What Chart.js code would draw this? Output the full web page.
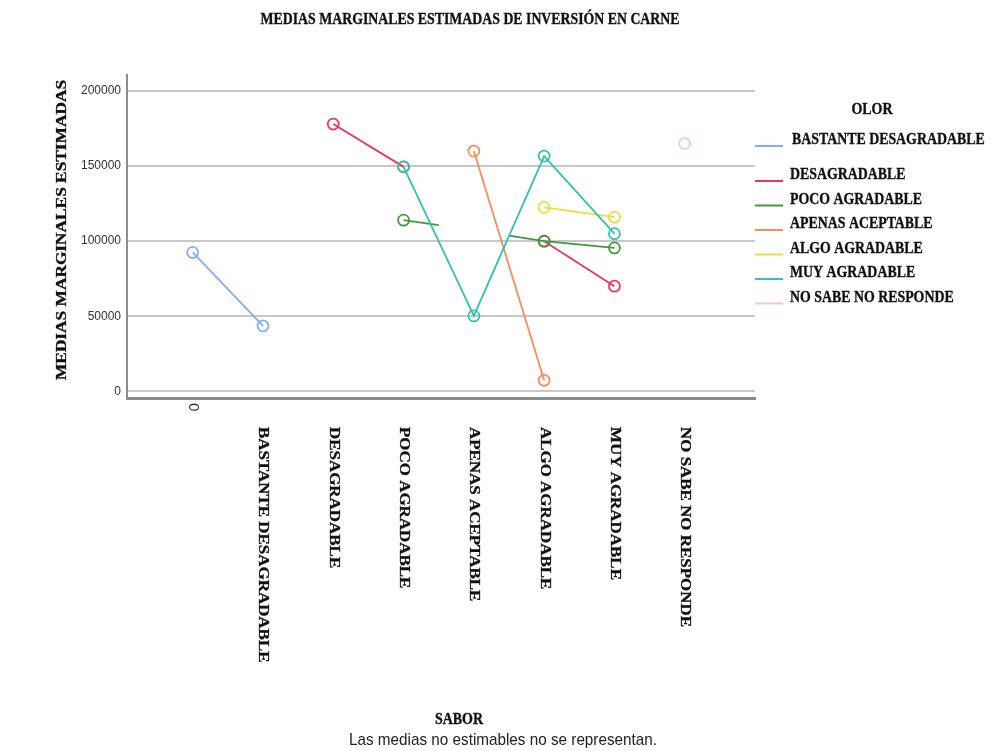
<!DOCTYPE html>
<html>
<head>
<meta charset="utf-8">
<script src="https://cdn.jsdelivr.net/npm/chart.js@4/dist/chart.umd.min.js"></script>
<style>
  html, body { margin: 0; padding: 0; background: #ffffff; }
  canvas { display: block; }
</style>
</head>
<body>
<canvas id="c" width="990" height="751"></canvas>
<script>
// ---- data ----
const categories = ['0', 'BASTANTE DESAGRADABLE', 'DESAGRADABLE', 'POCO AGRADABLE', 'APENAS ACEPTABLE', 'ALGO AGRADABLE', 'MUY AGRADABLE', 'NO SABE NO RESPONDE'];
const seriesNames = ['BASTANTE DESAGRADABLE', 'DESAGRADABLE', 'POCO AGRADABLE', 'APENAS ACEPTABLE', 'ALGO AGRADABLE', 'MUY AGRADABLE', 'NO SABE NO RESPONDE'];
const bastanteDesagradable = [92500, 43500, null, null, null, null, null, null];
const desagradable         = [null, null, 178000, 149500, null, 100000, 70000, null];
const pocoAgradable        = [null, null, null, 114000, 107500, 100000, 95500, null];
const apenasAceptable      = [null, null, null, null, 160000, 7300, null, null];
const algoAgradable        = [null, null, null, null, null, 122500, 116000, null];
const muyAgradable         = [null, null, null, 149500, 50200, 156700, 105000, null];
const noSabeNoResponde     = [null, null, null, null, null, null, null, 165000];
const pocoAgradableHidden  = [4];   // mean whose marker and neighbouring half-segments are not shown
const yTicks = [0, 50000, 100000, 150000, 200000];

const chartTitle = 'MEDIAS MARGINALES ESTIMADAS DE INVERSIÓN EN CARNE';
const yTitle = 'MEDIAS MARGINALES ESTIMADAS';
const xTitle = 'SABOR';
const legendTitle = 'OLOR';
const footnote = 'Las medias no estimables no se representan.';

// ---- styling ----
const colors = ['#82adee', '#e8375c', '#43983f', '#fa8b5b', '#e6df3c', '#2ec2b2', '#f8c3d9'];
const serif = '"Liberation Serif", "Times New Roman", serif';
const sans = '"Liberation Sans", Arial, sans-serif';

const allSeries = [bastanteDesagradable, desagradable, pocoAgradable, apenasAceptable, algoAgradable, muyAgradable, noSabeNoResponde];
const hiddenBySeries = {2: pocoAgradableHidden};

function dashFor(ctx, hidden) {
  const i0 = ctx.p0DataIndex, i1 = ctx.p1DataIndex;
  const half = Math.hypot(ctx.p1.x - ctx.p0.x, ctx.p1.y - ctx.p0.y) / 2;
  if (hidden.includes(i1)) return [half, 10000];
  if (hidden.includes(i0)) return [0, half, half, 10000];
  return undefined;
}

const datasets = allSeries.map((vals, s) => {
  const hidden = hiddenBySeries[s] || [];
  return {
    label: seriesNames[s],
    data: vals.map((v, i) => ({x: i, y: v})),
    borderColor: colors[s],
    borderWidth: 1.8,
    pointStyle: 'circle',
    pointRadius: (c) => hidden.includes(c.dataIndex) ? 0 : 5.5,
    pointBorderWidth: 1.7,
    pointBorderColor: colors[s],
    pointBackgroundColor: 'rgba(255,255,255,0)',
    spanGaps: false,
    fill: false,
    tension: 0,
    order: allSeries.length - s,
    segment: hidden.length ? { borderDash: (c) => dashFor(c, hidden) } : undefined
  };
});

function txt(ctx, s, x, y, o) {
  ctx.save();
  ctx.font = o.font;
  ctx.fillStyle = o.color || '#111';
  ctx.textAlign = o.align || 'left';
  ctx.textBaseline = 'middle';
  ctx.translate(x, y);
  if (o.rot) ctx.rotate(o.rot);
  let sx = o.sx || 1;
  if (o.width) sx = o.width / ctx.measureText(s).width;
  ctx.scale(sx, o.sy || 1);
  ctx.fillText(s, 0, 0);
  if (o.stroke) { ctx.lineWidth = o.stroke; ctx.strokeStyle = o.color || '#111'; ctx.strokeText(s, 0, 0); }
  ctx.restore();
}

const textPlugin = {
  id: 'texts',
  afterDraw(chart) {
    const ctx = chart.ctx;
    const xs = chart.scales.x;
    const bold = 'bold 14px ' + serif;
    // title
    txt(ctx, chartTitle, 470, 20, {font: bold, align: 'center', width: 419, sy: 1.2, stroke: 0.3});
    // y title
    txt(ctx, yTitle, 62, 230, {font: bold, align: 'center', rot: -Math.PI / 2, width: 300, stroke: 0.3});
    // x category labels, rotated clockwise
    categories.forEach((c, i) => {
      const px = xs.getPixelForValue(i);
      if (/^\d+$/.test(c)) {
        txt(ctx, c, px, 403, {font: '15px ' + sans, color: '#333', rot: Math.PI / 2, sx: 1.0});
      } else {
        txt(ctx, c, px, 427, {font: bold, rot: Math.PI / 2, sx: 1.21, stroke: 0.3});
      }
    });
    // x title + footnote
    txt(ctx, xTitle, 459, 720, {font: bold, align: 'center', sy: 1.2, stroke: 0.3});
    txt(ctx, footnote, 503, 740, {font: '14px ' + sans, color: '#222', align: 'center', width: 308, sy: 1.2});
    // legend
    txt(ctx, legendTitle, 872, 110, {font: bold, align: 'center', sy: 1.2, stroke: 0.3});
    seriesNames.forEach((n, i) => {
      const y = i === 0 ? 140 : 175 + (i - 1) * 24.5;
      ctx.save();
      ctx.strokeStyle = colors[i];
      ctx.lineWidth = 2;
      ctx.beginPath();
      ctx.moveTo(755, y + 6);
      ctx.lineTo(783, y + 6);
      ctx.stroke();
      ctx.restore();
      txt(ctx, n, i === 0 ? 792 : 790, y, {font: bold, sy: 1.2, sx: 0.99, stroke: 0.3});
    });
  }
};

new Chart(document.getElementById('c'), {
  type: 'line',
  data: { datasets },
  options: {
    responsive: false,
    animation: false,
    devicePixelRatio: 1,
    layout: { padding: { top: 75, right: 235, left: 0, bottom: 0 } },
    plugins: { legend: { display: false }, tooltip: { enabled: false }, title: { display: false } },
    scales: {
      x: {
        type: 'linear',
        min: -0.935,
        max: 8.0,
        ticks: { display: false },
        grid: { display: false, drawTicks: false },
        border: { display: true, color: '#8c8c8c', width: 3 },
        afterFit(s) { s.height = 751 - 398; }
      },
      y: {
        type: 'linear',
        min: -4500,
        max: 210700,
        afterBuildTicks(s) { s.ticks = yTicks.map(v => ({value: v})); },
        ticks: { font: { family: sans, size: 12 }, color: '#333', padding: 6, callback: (v) => String(v) },
        grid: { color: '#c8c8c8', lineWidth: 2, drawTicks: false },
        border: { display: true, color: '#8c8c8c', width: 2 },
        afterFit(s) { s.width = 127; }
      }
    }
  },
  plugins: [textPlugin]
});
</script>
</body>
</html>
